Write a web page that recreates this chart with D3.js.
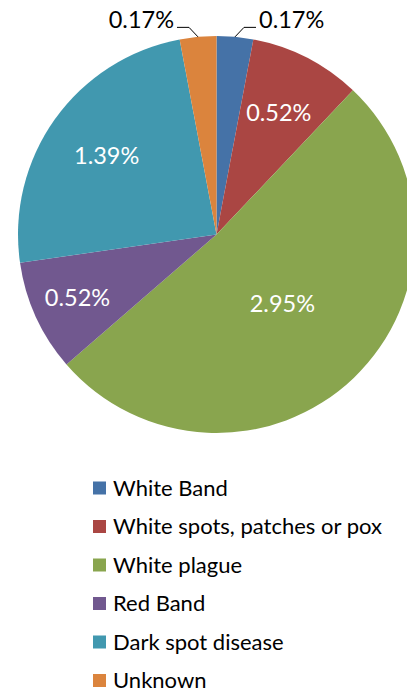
<!DOCTYPE html>
<html>
<head>
<meta charset="utf-8">
<style>
  body { margin: 0; background: #fff; }
  text { font-family: Lato, "Open Sans", sans-serif; }
</style>
</head>
<body>
<script src="https://d3js.org/d3.v7.min.js"></script>
<script>
// data
var categories = ["White Band", "White spots, patches or pox", "White plague", "Red Band", "Dark spot disease", "Unknown"];
var values = [0.17, 0.52, 2.95, 0.52, 1.39, 0.17];
var colors = ["#4572A7", "#AA4643", "#89A54E", "#71588F", "#4198AF", "#DB843D"];

var width = 407, height = 692;
var cx = 216.5, cy = 234.5, radius = 198.5;

// label placement, fraction of radius (0 = outside with leader line)
var labelPos = [0, 0.69, 0.48, 0.77, 0.68, 0];

var svg = d3.select("body").append("svg")
    .attr("width", width)
    .attr("height", height);

var pie = d3.pie().sort(null).value(function(d) { return d; });
var arcs = pie(values);

var arc = d3.arc().innerRadius(0).outerRadius(radius);

var g = svg.append("g").attr("transform", "translate(" + cx + "," + cy + ")");

g.selectAll("path.slice")
    .data(arcs)
    .enter()
    .append("path")
    .attr("class", "slice")
    .attr("fill", function(d, i) { return colors[i]; })
    .attr("d", arc);

// inside labels
g.selectAll("text.inlabel")
    .data(arcs.filter(function(d, i) { return labelPos[i] > 0; }))
    .enter()
    .append("text")
    .attr("class", "inlabel")
    .attr("transform", function(d) {
        var r = radius * labelPos[d.index];
        var a = (d.startAngle + d.endAngle) / 2;
        return "translate(" + (Math.sin(a) * r) + "," + (-Math.cos(a) * r) + ")";
    })
    .attr("text-anchor", "middle")
    .attr("dy", "0.36em")
    .attr("fill", "#fff")
    .style("font-size", "23.5px")
    .text(function(d) { return d.value.toFixed(2) + "%"; });

// outside labels with leader lines
var outs = arcs.filter(function(d, i) { return labelPos[i] === 0; });
outs.forEach(function(d) {
    var a = (d.startAngle + d.endAngle) / 2;
    var side = Math.sin(a) >= 0 ? 1 : -1;
    var p0 = [Math.sin(a) * radius, -Math.cos(a) * radius];
    var p1 = [p0[0] + side * 9, p0[1] - 9.5];
    var p2 = [p1[0] + side * 12, p1[1]];
    g.append("path")
        .attr("d", d3.line()([p0, p1, p2]))
        .attr("fill", "none")
        .attr("stroke", "#000")
        .attr("stroke-width", 1);
    g.append("text")
        .attr("x", p2[0] + side * 3)
        .attr("y", p2[1] - 8)
        .attr("text-anchor", side > 0 ? "start" : "end")
        .attr("dy", "0.36em")
        .attr("fill", "#000")
        .style("font-size", "23.5px")
        .text(d.value.toFixed(2) + "%");
});

// legend
var legend = svg.append("g")
    .selectAll("g")
    .data(categories)
    .enter()
    .append("g")
    .attr("transform", function(d, i) { return "translate(93," + (488 + i * 38.5) + ")"; });

legend.append("rect")
    .attr("x", 0)
    .attr("y", -6.5)
    .attr("width", 13)
    .attr("height", 13)
    .attr("fill", function(d, i) { return colors[i]; });

legend.append("text")
    .attr("x", 20)
    .attr("dy", "0.36em")
    .attr("fill", "#000")
    .style("font-size", "22px")
    .text(function(d) { return d; });
</script>
</body>
</html>
